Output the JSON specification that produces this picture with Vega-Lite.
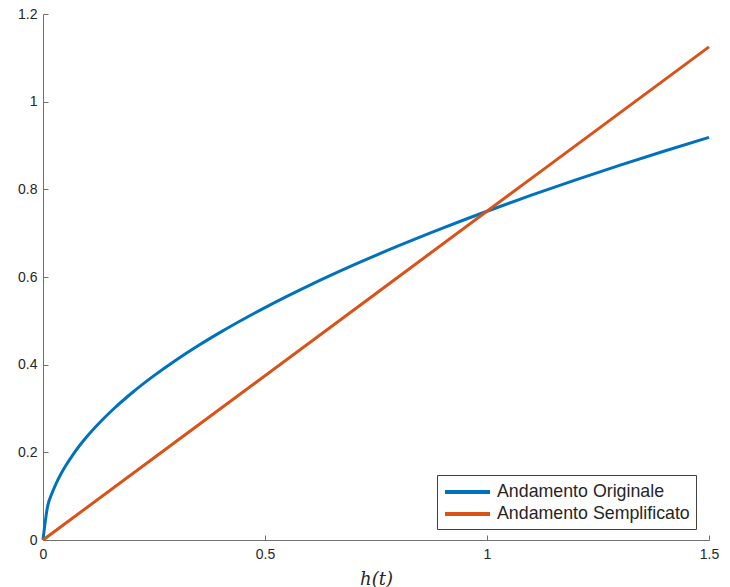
{
  "$schema": "https://vega.github.io/schema/vega-lite/v6.json",
  "width": 666,
  "height": 526,
  "autosize": {"type": "none"},
  "padding": {"left": 43, "top": 14, "right": 21, "bottom": 47},
  "background": "white",
  "config": {
    "view": {"stroke": null},
    "font": "Liberation Sans"
  },
  "data": {
    "values": [
      {"h": 0, "v": 0, "s": "Andamento Originale"},
      {"h": 0.01, "v": 0.075, "s": "Andamento Originale"},
      {"h": 0.02, "v": 0.1061, "s": "Andamento Originale"},
      {"h": 0.03, "v": 0.1299, "s": "Andamento Originale"},
      {"h": 0.04, "v": 0.15, "s": "Andamento Originale"},
      {"h": 0.05, "v": 0.1677, "s": "Andamento Originale"},
      {"h": 0.07, "v": 0.1984, "s": "Andamento Originale"},
      {"h": 0.1, "v": 0.2372, "s": "Andamento Originale"},
      {"h": 0.13, "v": 0.2704, "s": "Andamento Originale"},
      {"h": 0.16, "v": 0.3, "s": "Andamento Originale"},
      {"h": 0.2, "v": 0.3354, "s": "Andamento Originale"},
      {"h": 0.25, "v": 0.375, "s": "Andamento Originale"},
      {"h": 0.3, "v": 0.4108, "s": "Andamento Originale"},
      {"h": 0.35, "v": 0.4437, "s": "Andamento Originale"},
      {"h": 0.4, "v": 0.4743, "s": "Andamento Originale"},
      {"h": 0.5, "v": 0.5303, "s": "Andamento Originale"},
      {"h": 0.6, "v": 0.5809, "s": "Andamento Originale"},
      {"h": 0.7, "v": 0.6275, "s": "Andamento Originale"},
      {"h": 0.8, "v": 0.6708, "s": "Andamento Originale"},
      {"h": 0.9, "v": 0.7115, "s": "Andamento Originale"},
      {"h": 1.0, "v": 0.75, "s": "Andamento Originale"},
      {"h": 1.1, "v": 0.7866, "s": "Andamento Originale"},
      {"h": 1.2, "v": 0.8216, "s": "Andamento Originale"},
      {"h": 1.3, "v": 0.8551, "s": "Andamento Originale"},
      {"h": 1.4, "v": 0.8874, "s": "Andamento Originale"},
      {"h": 1.5, "v": 0.9186, "s": "Andamento Originale"},
      {"h": 0, "v": 0, "s": "Andamento Semplificato"},
      {"h": 0.75, "v": 0.5625, "s": "Andamento Semplificato"},
      {"h": 1.5, "v": 1.125, "s": "Andamento Semplificato"}
    ]
  },
  "mark": {"type": "line", "strokeWidth": 3, "interpolate": "monotone"},
  "encoding": {
    "x": {
      "field": "h", "type": "quantitative",
      "scale": {"domain": [0, 1.5], "nice": false, "zero": false},
      "axis": {
        "title": "h(t)",
        "titleFont": "DejaVu Serif",
        "titleFontStyle": "italic",
        "titleFontWeight": "normal",
        "titleFontSize": 18,
        "titleColor": "#262626",
        "titlePadding": 9,
        "values": [0, 0.5, 1, 1.5],
        "format": "~g",
        "grid": false,
        "domainColor": "#707070",
        "tickColor": "#707070",
        "tickSize": -5,
        "labelPadding": 12,
        "labelFontSize": 14,
        "labelColor": "#262626",
        "labelFlush": false
      }
    },
    "y": {
      "field": "v", "type": "quantitative",
      "scale": {"domain": [0, 1.2], "nice": false},
      "axis": {
        "title": null,
        "values": [0, 0.2, 0.4, 0.6, 0.8, 1, 1.2],
        "format": "~g",
        "grid": false,
        "domainColor": "#707070",
        "tickColor": "#707070",
        "tickSize": -5,
        "labelPadding": 11,
        "labelFontSize": 14,
        "labelColor": "#262626",
        "labelFlush": false
      }
    },
    "color": {
      "field": "s", "type": "nominal",
      "scale": {"domain": ["Andamento Originale", "Andamento Semplificato"], "range": ["#0072BD", "#D95319"]},
      "legend": {
        "title": null,
        "orient": "none",
        "legendX": 394,
        "legendY": 461,
        "symbolType": "M-1,0H4",
        "symbolSize": 324,
        "symbolStrokeWidth": 4,
        "labelFontSize": 17.8,
        "labelLimit": 400,
        "labelColor": "#262626",
        "fillColor": "white",
        "strokeColor": "#404040",
        "padding": 6,
        "rowPadding": 2,
        "labelOffset": 32
      }
    }
  }
}
